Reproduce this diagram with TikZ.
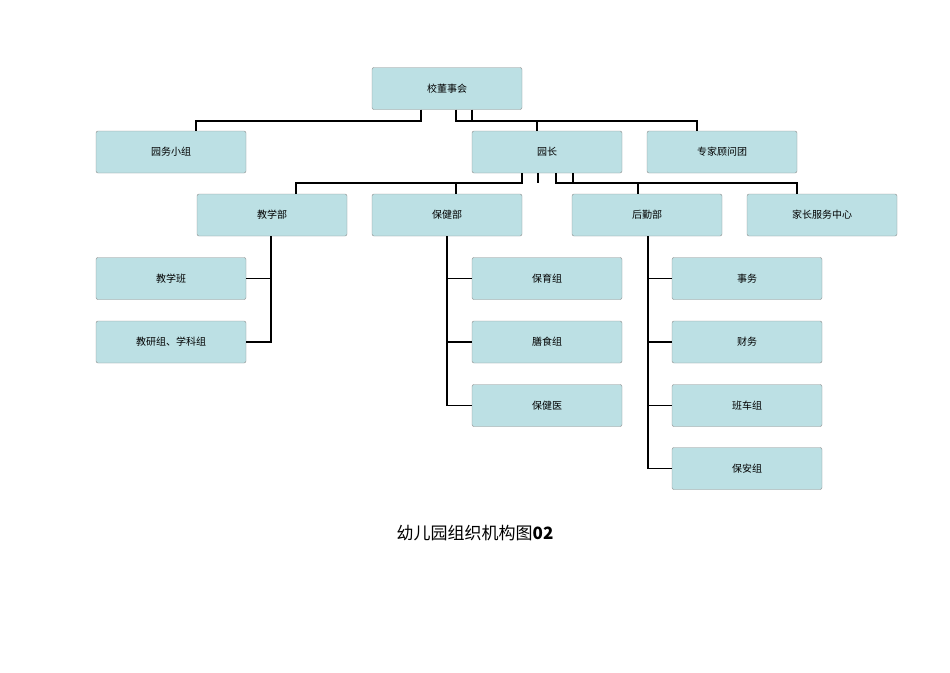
\documentclass[tikz,border=0pt]{standalone}
\usepackage{fontspec}
\newfontfamily\cjk{Noto Sans CJK SC}
\begin{document}
\begin{tikzpicture}[x=1pt,y=-1pt,
 box/.style={draw=black!45,fill={rgb,255:red,188;green,224;blue,228},rounded corners=2pt,minimum width=150pt,minimum height=42pt,font=\cjk\fontsize{10}{12}\selectfont,inner sep=0pt},
 ln/.style={line width=1.6pt}]
\useasboundingbox (0,0) rectangle (950,672);
\node[box] (top) at (447,88.5) {校董事会};
\node[box] (ywxz) at (171,152) {园务小组};
\node[box] (yz) at (547,152) {园长};
\node[box] (zj) at (722,152) {专家顾问团};
\node[box] (jxb) at (272,215) {教学部};
\node[box] (bjb) at (447,215) {保健部};
\node[box] (hqb) at (647,215) {后勤部};
\node[box] (jz) at (822,215) {家长服务中心};
\node[box] (jxban) at (171,278.5) {教学班};
\node[box] (jyz) at (171,342) {教研组、学科组};
\node[box] (byz) at (547,278.5) {保育组};
\node[box] (ssz) at (547,342) {膳食组};
\node[box] (bjy) at (547,405.5) {保健医};
\node[box] (sw) at (747,278.5) {事务};
\node[box] (cw) at (747,342) {财务};
\node[box] (bcz) at (747,405.5) {班车组};
\node[box] (baz) at (747,468.5) {保安组};
\node[font=\cjk\fontsize{17}{20}\selectfont] (title) at (475,533) {幼儿园组织机构图\textbf{02}};
% level 1
\draw[ln] (top.south -| 421,0) |- (196,121) -- (ywxz.north -| 196,0);
\draw[ln] (top.south -| 456,0) |- (697,121) -- (zj.north -| 697,0);
\draw[ln] (top.south -| 472,0) -- (472,121);
\draw[ln] (537,121) -- (yz.north -| 537,0);
% level 2
\draw[ln] (yz.south -| 522,0) |- (296,183) -- (jxb.north -| 296,0);
\draw[ln] (yz.south -| 538,0) -- (538,183);
\draw[ln] (456,183) -- (bjb.north -| 456,0);
\draw[ln] (yz.south -| 556,0) |- (797,183) -- (jz.north -| 797,0);
\draw[ln] (yz.south -| 573,0) -- (573,183);
\draw[ln] (638,183) -- (hqb.north -| 638,0);
% level 3
\draw[ln] (jxb.south -| 271,0) |- (jyz.east);
\draw[ln] (271,278.5) -- (jxban.east);
\draw[ln] (bjb.south -| 447,0) |- (bjy.west);
\draw[ln] (447,278.5) -- (byz.west);
\draw[ln] (447,342) -- (ssz.west);
\draw[ln] (hqb.south -| 648,0) |- (baz.west);
\draw[ln] (648,278.5) -- (sw.west);
\draw[ln] (648,342) -- (cw.west);
\draw[ln] (648,405.5) -- (bcz.west);
\end{tikzpicture}
\end{document}
